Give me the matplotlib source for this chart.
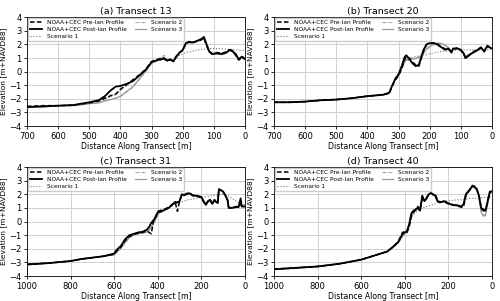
"""Cross-shore profiles at four transects: pre/post-Ian surveys vs. model scenarios."""

import matplotlib

matplotlib.use("Agg")
import matplotlib.pyplot as plt

# (a) Transect 13
x_a = [700, 650, 600, 550, 500, 470, 450, 430, 415, 400, 380, 360, 340, 320, 300, 280, 260, 250, 240, 230, 220,
       210, 200, 190, 180, 170, 160, 150, 140, 132, 125, 115, 105, 90, 75, 60, 50, 40, 30, 20, 10, 0]
pre_a = [-2.55, -2.5, -2.5, -2.45, -2.3, -2.15, -1.95, -1.75, -1.65, -1.3, -0.95, -0.6, -0.25, 0.15, 0.75, 0.9, 1.0,
         0.8, 0.85, 0.8, 1.15, 1.4, 1.55, 2.05, 2.2, 2.1, 2.2, 2.25, 2.35, 2.5, 2.0, 1.45, 1.3, 1.4, 1.35, 1.45, 1.6,
         1.55, 1.2, 0.85, 1.05, 0.9]
post_a = [-2.6, -2.55, -2.5, -2.45, -2.25, -2.1, -1.8, -1.35, -1.1, -1.05, -0.9, -0.7, -0.3, 0.1, 0.7, 0.85, 0.95,
          0.8, 0.9, 0.75, 1.1, 1.4, 1.6, 2.1, 2.2, 2.15, 2.2, 2.3, 2.4, 2.55, 2.1, 1.5, 1.3, 1.35, 1.3, 1.4, 1.6, 1.5,
          1.3, 0.9, 1.1, 0.95]
s1_a = [-2.6, -2.55, -2.5, -2.5, -2.3, -2.2, -2.0, -1.8, -1.7, -1.35, -1.0, -0.7, -0.35, 0.0, 0.6, 0.8, 0.9, 0.85,
        0.85, 0.85, 1.05, 1.2, 1.3, 1.4, 1.45, 1.5, 1.55, 1.6, 1.63, 1.65, 1.68, 1.7, 1.7, 1.7, 1.68, 1.66, 1.65,
        1.63, 1.6, 1.58, 1.56, 1.55]
s2_a = [-2.65, -2.6, -2.5, -2.5, -2.35, -2.25, -2.1, -2.05, -1.95, -1.85, -1.5, -1.15, -0.6, 0.0, 0.65, 0.95, 1.2,
        0.9, 0.95, 0.8, 1.2, 1.45, 1.6, 1.95, 2.1, 2.1, 2.15, 2.25, 2.3, 2.4, 2.0, 1.4, 1.25, 1.3, 1.25, 1.35, 1.55,
        1.45, 1.2, 0.95, 1.1, 0.95]
s3_a = [-2.6, -2.6, -2.5, -2.5, -2.35, -2.3, -2.15, -2.05, -1.95, -1.8, -1.45, -1.1, -0.55, 0.0, 0.6, 0.9, 1.05,
        0.85, 0.9, 0.75, 1.15, 1.4, 1.6, 2.0, 2.15, 2.1, 2.2, 2.25, 2.3, 2.45, 2.05, 1.45, 1.25, 1.3, 1.25, 1.35,
        1.55, 1.45, 1.2, 0.95, 1.1, 0.95]

# (b) Transect 20
x_b = [700, 650, 600, 550, 500, 450, 400, 350, 330, 320, 310, 300, 290, 280, 275, 265, 255, 245, 235, 228, 220,
       210, 200, 190, 180, 170, 160, 150, 140, 130, 125, 110, 100, 90, 85, 75, 60, 45, 35, 25, 15, 5, 0]
pre_b = [-2.25, -2.25, -2.2, -2.1, -2.05, -1.95, -1.8, -1.7, -1.6, -1.05, -0.6, -0.3, 0.2, 0.9, 1.1, 1.0, 0.7, 0.5,
         0.4, 0.9, 1.5, 2.0, 2.05, 2.1, 2.1, 1.95, 1.8, 1.65, 1.65, 1.45, 1.65, 1.75, 1.55, 1.25, 0.95, 1.15, 1.45,
         1.65, 1.8, 1.45, 1.85, 1.8, 1.7]
post_b = [-2.25, -2.25, -2.2, -2.1, -2.05, -1.95, -1.8, -1.7, -1.55, -1.0, -0.5, -0.2, 0.4, 1.1, 1.2, 0.9, 0.6, 0.4,
          0.5, 1.0, 1.6, 2.0, 2.1, 2.1, 2.05, 1.9, 1.75, 1.6, 1.7, 1.4, 1.7, 1.7, 1.6, 1.3, 1.0, 1.2, 1.4, 1.6, 1.75,
          1.5, 1.9, 1.75, 1.7]
s1_b = [-2.25, -2.25, -2.2, -2.1, -2.05, -1.95, -1.8, -1.7, -1.55, -1.0, -0.5, -0.1, 0.4, 0.8, 0.9, 1.0, 1.05, 1.1,
        1.15, 1.2, 1.2, 1.25, 1.3, 1.35, 1.4, 1.45, 1.5, 1.5, 1.55, 1.55, 1.55, 1.6, 1.6, 1.6, 1.6, 1.6, 1.6, 1.6,
        1.6, 1.6, 1.6, 1.6, 1.6]
s2_b = [-2.25, -2.25, -2.2, -2.1, -2.05, -1.95, -1.8, -1.7, -1.55, -1.0, -0.6, -0.3, 0.2, 0.7, 0.8, 0.85, 0.9, 0.95,
        1.0, 1.1, 1.3, 1.6, 1.8, 1.95, 2.0, 2.05, 2.05, 1.9, 1.7, 1.45, 1.6, 1.65, 1.55, 1.3, 1.05, 1.2, 1.4, 1.55,
        1.7, 1.5, 1.8, 1.7, 1.65]
s3_b = [-2.25, -2.25, -2.2, -2.1, -2.05, -1.95, -1.8, -1.7, -1.55, -1.0, -0.55, -0.25, 0.3, 0.75, 0.85, 0.9, 0.95,
        1.0, 1.05, 1.15, 1.4, 1.7, 1.85, 2.0, 2.05, 2.1, 2.05, 1.95, 1.75, 1.5, 1.65, 1.7, 1.6, 1.35, 1.1, 1.25,
        1.45, 1.6, 1.75, 1.55, 1.85, 1.75, 1.7]

# (c) Transect 31
x_c = [1000, 900, 800, 750, 700, 650, 600, 590, 570, 550, 530, 510, 490, 470, 450, 440, 430, 420, 410, 400, 390,
       370, 350, 330, 320, 310, 300, 290, 280, 270, 260, 250, 240, 220, 200, 190, 180, 170, 160, 150, 140, 130, 125,
       120, 110, 100, 90, 80, 75, 60, 40, 30, 20, 15, 0]
pre_c = [-3.15, -3.05, -2.9, -2.75, -2.65, -2.55, -2.4, -2.2, -1.9, -1.4, -1.1, -0.95, -0.85, -0.8, -0.7, -0.8,
         -0.9, 0.0, 0.4, 0.75, 0.8, 0.9, 1.05, 1.3, 1.4, 0.75, 1.5, 1.95, 1.9, 2.0, 2.0, 2.0, 1.95, 1.85, 1.75, 1.45,
         1.2, 1.45, 1.6, 1.25, 1.55, 1.35, 1.35, 2.4, 2.3, 2.15, 1.95, 1.55, 1.05, 1.0, 1.05, 1.1, 1.3, 1.2, 1.2]
post_c = [-3.15, -3.05, -2.9, -2.75, -2.65, -2.55, -2.35, -2.1, -1.8, -1.3, -1.0, -0.9, -0.8, -0.75, -0.6, -0.4,
          -0.1, 0.1, 0.3, 0.7, 0.7, 0.85, 1.0, 1.3, 1.45, 1.4, 1.5, 2.0, 1.95, 2.0, 2.05, 2.05, 1.9, 1.9, 1.8, 1.5,
          1.25, 1.5, 1.6, 1.3, 1.6, 1.4, 1.4, 2.3, 2.3, 2.2, 1.9, 1.6, 1.0, 1.0, 1.1, 1.05, 1.7, 1.1, 1.1]
s1_c = [-3.15, -3.05, -2.9, -2.75, -2.65, -2.55, -2.4, -2.2, -1.9, -1.45, -1.1, -0.95, -0.85, -0.8, -0.65, -0.5,
        -0.25, 0.0, 0.25, 0.5, 0.65, 0.85, 1.0, 1.2, 1.3, 1.35, 1.4, 1.45, 1.5, 1.55, 1.6, 1.62, 1.65, 1.72, 1.78,
        1.8, 1.82, 1.85, 1.88, 1.9, 1.92, 1.95, 1.96, 1.97, 1.98, 2.0, 1.98, 1.9, 1.85, 1.7, 1.5, 1.4, 1.3, 1.25, 1.2]
s2_c = [-3.2, -3.05, -2.9, -2.75, -2.65, -2.55, -2.45, -2.3, -2.0, -1.6, -1.2, -1.0, -0.9, -0.85, -0.75, -0.65,
        -0.45, -0.2, 0.1, 0.5, 0.65, 0.8, 1.0, 1.25, 1.4, 1.35, 1.5, 1.9, 1.95, 2.05, 2.1, 2.0, 1.9, 1.85, 1.75, 1.45,
        1.2, 1.45, 1.55, 1.3, 1.55, 1.4, 1.35, 2.25, 2.25, 2.1, 1.85, 1.55, 1.0, 1.0, 1.1, 1.05, 1.2, 1.15, 1.1]
s3_c = [-3.15, -3.05, -2.9, -2.75, -2.65, -2.55, -2.45, -2.25, -1.95, -1.55, -1.15, -1.0, -0.9, -0.85, -0.75, -0.6,
        -0.4, -0.15, 0.15, 0.55, 0.7, 0.85, 1.0, 1.25, 1.4, 1.35, 1.5, 1.95, 2.0, 2.1, 2.15, 2.05, 1.9, 1.85, 1.75,
        1.45, 1.2, 1.45, 1.55, 1.3, 1.55, 1.4, 1.35, 2.3, 2.3, 2.15, 1.9, 1.6, 1.0, 1.0, 1.1, 1.05, 1.25, 1.15, 1.1]

# (d) Transect 40
x_d = [1000, 900, 800, 700, 600, 500, 480, 450, 430, 410, 400, 390, 380, 370, 360, 350, 340, 330, 320, 310, 300,
       290, 280, 270, 260, 250, 240, 220, 200, 180, 160, 140, 130, 120, 110, 100, 90, 80, 70, 60, 50, 40, 30, 20, 10, 0]
pre_d = [-3.5, -3.4, -3.3, -3.1, -2.8, -2.3, -2.2, -1.8, -1.45, -0.8, -0.75, -0.8, -0.4, 0.4, 0.7, 0.85, 1.1, 0.9,
         1.7, 1.6, 1.75, 2.05, 2.1, 1.95, 2.0, 1.55, 1.45, 1.45, 1.3, 1.25, 1.15, 1.05, 1.1, 1.9, 2.15, 2.35, 2.65,
         2.6, 2.35, 1.95, 1.1, 0.9, 0.85, 1.4, 2.15, 2.25]
post_d = [-3.5, -3.4, -3.3, -3.1, -2.8, -2.3, -2.2, -1.8, -1.5, -0.9, -0.8, -0.7, -0.2, 0.6, 0.8, 0.9, 1.0, 0.8, 1.9,
          1.5, 1.7, 2.0, 2.1, 2.0, 1.9, 1.5, 1.4, 1.5, 1.35, 1.2, 1.2, 1.1, 1.3, 2.0, 2.2, 2.4, 2.6, 2.55, 2.4, 1.9,
          1.0, 0.8, 0.8, 1.5, 2.2, 2.2]
s1_d = [-3.5, -3.4, -3.3, -3.1, -2.8, -2.3, -2.2, -1.8, -1.5, -1.0, -0.8, -0.6, -0.2, 0.3, 0.5, 0.7, 0.8, 0.9, 1.0,
        1.05, 1.1, 1.15, 1.2, 1.25, 1.3, 1.4, 1.45, 1.5, 1.55, 1.55, 1.6, 1.6, 1.62, 1.64, 1.66, 1.7, 1.7, 1.72,
        1.72, 1.74, 1.75, 1.76, 1.78, 1.8, 1.82, 1.85]
s2_d = [-3.55, -3.45, -3.3, -3.1, -2.8, -2.3, -2.2, -1.85, -1.6, -1.1, -0.95, -0.8, -0.3, 0.3, 0.6, 0.8, 0.95, 0.9,
        1.6, 1.5, 1.7, 1.95, 2.05, 2.0, 1.85, 1.5, 1.4, 1.45, 1.3, 1.2, 1.15, 1.1, 1.25, 1.9, 2.1, 2.3, 2.5, 2.45,
        2.3, 1.8, 0.8, 0.5, 0.5, 1.3, 2.1, 2.2]
s3_d = [-3.5, -3.4, -3.3, -3.1, -2.8, -2.3, -2.2, -1.85, -1.55, -1.05, -0.9, -0.75, -0.25, 0.35, 0.65, 0.85, 0.95,
        0.85, 1.65, 1.5, 1.7, 2.0, 2.1, 2.0, 1.85, 1.5, 1.4, 1.45, 1.3, 1.2, 1.15, 1.1, 1.25, 1.95, 2.15, 2.35, 2.55,
        2.5, 2.35, 1.8, 0.7, 0.4, 0.45, 1.3, 2.1, 2.2]

titles = ["(a) Transect 13", "(b) Transect 20", "(c) Transect 31", "(d) Transect 40"]
x_limits = [700, 700, 1000, 1000]
x_steps = [100, 100, 200, 200]
y_ticks = [-4, -3, -2, -1, 0, 1, 2, 3, 4]
labels = ["NOAA+CEC Pre-Ian Profile", "NOAA+CEC Post-Ian Profile", "Scenario 1", "Scenario 2", "Scenario 3"]


def draw_panel(ax, x, pre, post, s1, s2, s3, title, xmax, step):
    ax.plot(x, pre, color="black", ls=(0, (3, 1.5)), lw=1.1, label=labels[0], zorder=4)
    ax.plot(x, post, color="black", ls="-", lw=1.3, label=labels[1], zorder=5)
    ax.plot(x, s1, color="#777777", ls=":", lw=0.8, label=labels[2], zorder=3)
    ax.plot(x, s2, color="#aaaaaa", ls="--", lw=0.8, label=labels[3], zorder=3)
    ax.plot(x, s3, color="#999999", ls="-", lw=0.9, label=labels[4], zorder=3)

    ax.set_xlim(xmax, 0)
    ax.set_ylim(-4, 4)
    ax.set_xticks(list(range(xmax, -1, -step)))
    ax.set_yticks(y_ticks)
    ax.grid(True, color="#d0d0d0", lw=0.7)
    ax.set_axisbelow(True)
    ax.tick_params(labelsize=6, length=2.5, width=0.6, pad=1.5)
    for spine in ax.spines.values():
        spine.set_linewidth(0.6)
    ax.set_title(title, fontsize=6.8, pad=2)
    ax.set_xlabel("Distance Along Transect [m]", fontsize=5.6, labelpad=1)
    ax.set_ylabel("Elevation [m+NAVD88]", fontsize=5.4, labelpad=1.5)
    leg = ax.legend(loc="upper left", ncol=2, fontsize=4.2, frameon=True, fancybox=False, edgecolor="#cccccc",
                    framealpha=1.0, handlelength=2.0, handletextpad=0.8, columnspacing=1.4, labelspacing=0.3,
                    borderpad=0.35, borderaxespad=0.2)
    leg.set_zorder(10)


def main() -> None:
    fig = plt.figure(figsize=(5.0, 3.01), dpi=100)
    positions = [
        [0.054, 0.581, 0.436, 0.362],
        [0.548, 0.581, 0.436, 0.362],
        [0.054, 0.083, 0.436, 0.362],
        [0.548, 0.083, 0.436, 0.362],
    ]
    panels = [
        (x_a, pre_a, post_a, s1_a, s2_a, s3_a),
        (x_b, pre_b, post_b, s1_b, s2_b, s3_b),
        (x_c, pre_c, post_c, s1_c, s2_c, s3_c),
        (x_d, pre_d, post_d, s1_d, s2_d, s3_d),
    ]
    for pos, data, title, xmax, step in zip(positions, panels, titles, x_limits, x_steps):
        ax = fig.add_axes(pos)
        draw_panel(ax, *data, title, xmax, step)

    fig.savefig("out.png", dpi=100)
    plt.close(fig)


if __name__ == "__main__":
    main()
